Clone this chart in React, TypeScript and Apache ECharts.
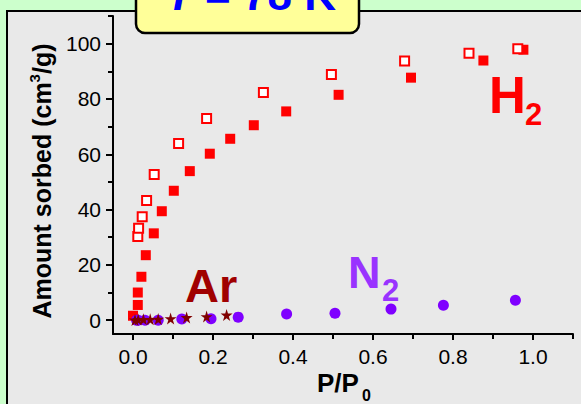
import React, { useEffect, useRef } from 'react';
import * as echarts from 'echarts';

// H2 adsorption (filled squares)
const h2AdsX = [0.0, 0.012, 0.012, 0.021, 0.032, 0.052, 0.072, 0.102, 0.142, 0.192, 0.243, 0.302, 0.383, 0.514, 0.695, 0.876, 0.976];
const h2AdsY = [1.6, 5.5, 10.0, 15.7, 23.5, 31.4, 39.4, 46.8, 53.9, 60.2, 65.6, 70.5, 75.5, 81.5, 87.7, 93.9, 97.8];
// H2 desorption (open squares)
const h2DesX = [0.012, 0.014, 0.023, 0.034, 0.053, 0.114, 0.184, 0.326, 0.496, 0.679, 0.84, 0.962];
const h2DesY = [30.3, 33.2, 37.4, 43.3, 52.7, 63.9, 72.9, 82.3, 88.8, 93.7, 96.5, 98.2];
// N2 (circles)
const n2X = [0.009, 0.013, 0.03, 0.063, 0.122, 0.195, 0.263, 0.384, 0.505, 0.645, 0.776, 0.956];
const n2Y = [0.0, 0.0, 0.0, 0.0, 0.4, 0.5, 1.1, 2.2, 2.5, 4.0, 5.4, 7.2];
// Ar (stars)
const arX = [0.005, 0.013, 0.026, 0.043, 0.063, 0.094, 0.134, 0.184, 0.234];
const arY = [0.1, 0.2, 0.3, 0.3, 0.4, 0.6, 1.0, 1.3, 1.9];

const xLabelValues = [0, 0.2, 0.4, 0.6, 0.8, 1.0];
const xMinorValues = [0.1, 0.3, 0.5, 0.7, 0.9, 1.1];
const yLabelValues = [0, 20, 40, 60, 80, 100];
const yMinorValues = [10, 30, 50, 70, 90, 110];

const pairs = (xs: number[], ys: number[]) => xs.map((x, i) => [x, ys[i]]);

const FONT = 'Arial, "Liberation Sans", Helvetica, sans-serif';
const STAR = 'path://M50,0 L61,35 L98,35 L68,57 L79,91 L50,70 L21,91 L32,57 L2,35 L39,35 Z';

export default function App() {
  const ref = useRef<HTMLDivElement>(null);
  useEffect(() => {
    if (!ref.current) return;
    const chart = echarts.init(ref.current, null, { renderer: 'svg' });
    const axisLineStyle = { color: '#000', width: 2 };
    const label = (x: number, y: number, text: string, size: number, color: string, extra: any = {}) => ({
      type: 'text',
      x,
      y,
      z: 100,
      silent: true,
      style: {
        text,
        fill: color,
        font: `bold ${size}px ${FONT}`,
        align: 'left',
        verticalAlign: 'middle',
        ...extra,
      },
    });
    chart.setOption({
      animation: false,
      backgroundColor: '#ccffcc',
      grid: { left: 113, right: 8, top: 16, bottom: 70, containLabel: false },
      xAxis: [
        {
          type: 'value',
          min: -0.05,
          max: 1.1,
          position: 'bottom',
          axisLine: { show: true, onZero: false, lineStyle: axisLineStyle },
          axisTick: { show: true, customValues: xLabelValues, length: 6, lineStyle: axisLineStyle },
          axisLabel: {
            customValues: xLabelValues,
            formatter: (v: number) => v.toFixed(1),
            color: '#000',
            fontSize: 21,
            fontFamily: FONT,
            margin: 12,
          },
          splitLine: { show: false },
        },
        {
          type: 'value',
          min: -0.05,
          max: 1.1,
          position: 'bottom',
          offset: 0,
          axisLine: { show: false, onZero: false },
          axisTick: { show: true, customValues: xMinorValues, length: 5, lineStyle: axisLineStyle },
          axisLabel: { show: false },
          splitLine: { show: false },
        },
      ],
      yAxis: [
        {
          type: 'value',
          min: -5,
          max: 110,
          position: 'left',
          axisLine: { show: true, onZero: false, lineStyle: axisLineStyle },
          axisTick: { show: true, customValues: yLabelValues, length: 7, lineStyle: axisLineStyle },
          axisLabel: {
            customValues: yLabelValues,
            color: '#000',
            fontSize: 21,
            fontFamily: FONT,
            margin: 12,
          },
          splitLine: { show: false },
        },
        {
          type: 'value',
          min: -5,
          max: 110,
          position: 'left',
          offset: 0,
          axisLine: { show: false, onZero: false },
          axisTick: { show: true, customValues: yMinorValues, length: 5, lineStyle: axisLineStyle },
          axisLabel: { show: false },
          splitLine: { show: false },
        },
      ],
      series: [
        {
          type: 'scatter',
          data: pairs(h2AdsX, h2AdsY),
          symbol: 'rect',
          symbolSize: 10,
          silent: true,
          itemStyle: { color: '#ff0000', opacity: 1 },
        },
        {
          type: 'scatter',
          data: pairs(h2DesX, h2DesY),
          symbol: 'rect',
          symbolSize: 9,
          silent: true,
          itemStyle: { color: '#ffffff', borderColor: '#ff0000', borderWidth: 2, opacity: 1 },
        },
        {
          type: 'scatter',
          data: pairs(n2X, n2Y),
          symbol: 'circle',
          symbolSize: 11,
          silent: true,
          itemStyle: { color: '#7f00ff', opacity: 1 },
        },
        {
          type: 'scatter',
          data: pairs(arX, arY),
          symbol: STAR,
          symbolSize: 12,
          silent: true,
          itemStyle: { color: '#800000', opacity: 1 },
        },
      ],
      graphic: [
        {
          type: 'rect',
          z: -10,
          silent: true,
          shape: { x: 7, y: 11, width: 620, height: 420 },
          style: { fill: '#e9e9e9', stroke: '#000', lineWidth: 2 },
        },
        {
          type: 'rect',
          z: 90,
          silent: true,
          shape: { x: 136, y: -20, width: 223, height: 53, r: 9 },
          style: { fill: '#ffff99', stroke: '#000', lineWidth: 2.5 },
        },
        {
          type: 'text',
          x: 166,
          y: -6,
          z: 100,
          silent: true,
          style: {
            text: '{i|T}{n| = 78 K}',
            align: 'left',
            verticalAlign: 'middle',
            rich: {
              i: { fontSize: 44, fontWeight: 'bold', fontStyle: 'italic', fontFamily: FONT, fill: '#0000ff', color: '#0000ff' },
              n: { fontSize: 44, fontWeight: 'bold', fontFamily: FONT, fill: '#0000ff', color: '#0000ff' },
            },
          },
        },
        {
          type: 'text',
          x: 42,
          y: 181,
          z: 100,
          rotation: Math.PI / 2,
          silent: true,
          style: {
            text: '{a|Amount sorbed (cm}{s|3}{a|/g)}',
            align: 'center',
            verticalAlign: 'middle',
            rich: {
              a: { fontSize: 25, fontWeight: 'bold', fontFamily: FONT, fill: '#000', color: '#000', lineHeight: 30 },
              s: { fontSize: 15, fontWeight: 'bold', fontFamily: FONT, fill: '#000', color: '#000', lineHeight: 15, verticalAlign: 'top' },
            },
          },
        },
        label(317, 383, 'P/P', 26, '#000'),
        label(362, 395, '0', 16, '#000'),
        label(489, 95, 'H', 51, '#ff0000'),
        label(525, 114, '2', 31, '#ff0000'),
        label(185, 285, 'Ar', 47, '#a00000'),
        label(348, 272, 'N', 45, '#9933ff'),
        label(382, 290, '2', 31, '#9933ff'),
      ],
    });
    return () => chart.dispose();
  }, []);
  return (
    <div
      ref={ref}
      style={{ position: 'fixed', left: 0, top: 0, width: 581, height: 404 }}
    />
  );
}
